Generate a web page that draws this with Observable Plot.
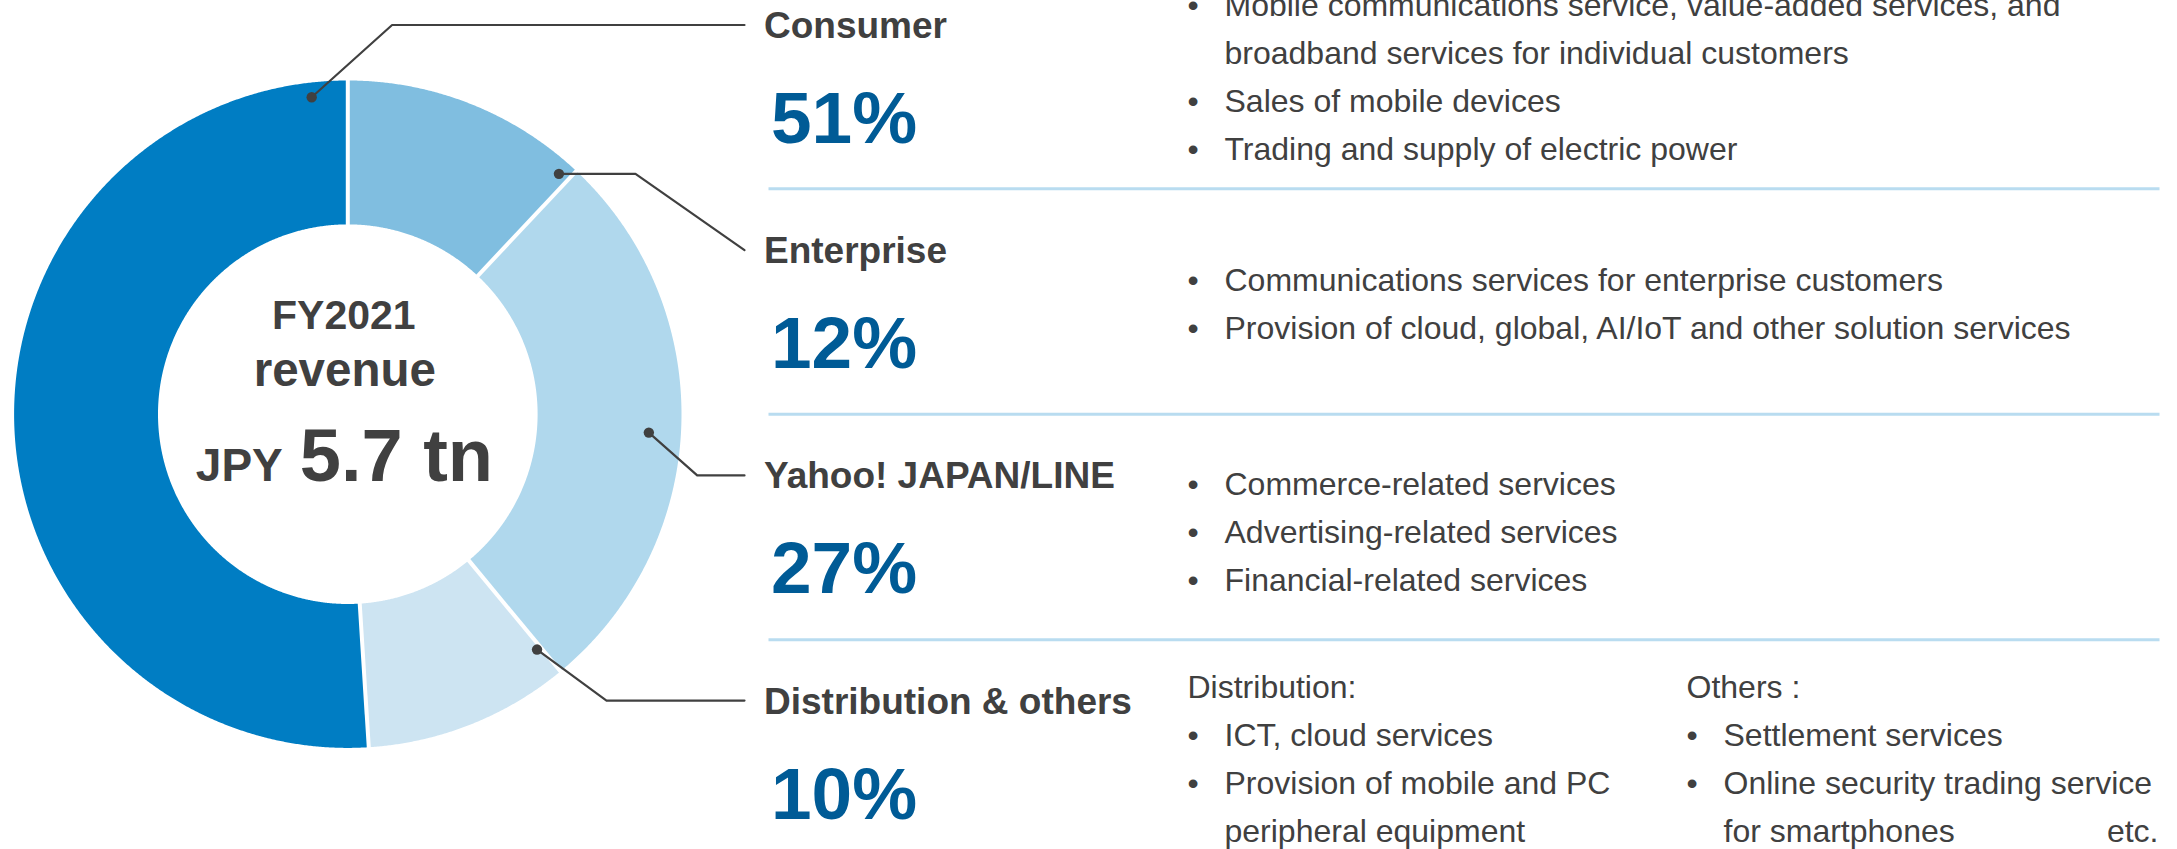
<!DOCTYPE html>
<html>
<head>
<meta charset="utf-8">
<script src="https://cdn.jsdelivr.net/npm/d3@7"></script>
<script src="https://cdn.jsdelivr.net/npm/@observablehq/plot@0.6"></script>
<style>
  html, body { margin: 0; padding: 0; background: #ffffff; }
  #chart svg { display: block; }
</style>
</head>
<body>
<div id="chart"></div>
<script>
// ---------------- data ----------------
const segments = ["Consumer", "Enterprise", "Yahoo! JAPAN/LINE", "Distribution & others"];
const shares = [51, 12, 27, 10];
const shareLabels = ["51%", "12%", "27%", "10%"];
// clockwise order of the slices, starting at 12 o'clock
const donutOrder = ["Enterprise", "Yahoo! JAPAN/LINE", "Distribution & others", "Consumer"];
const centerLines = ["FY2021", "revenue"];
const totalCurrency = "JPY";
const totalValue = "5.7 tn";

const consumerLines = [
  ["bullet", "Mobile communications service, value-added services, and"],
  ["cont", "broadband services for individual customers"],
  ["bullet", "Sales of mobile devices"],
  ["bullet", "Trading and supply of electric power"]
];
const enterpriseLines = [
  ["bullet", "Communications services for enterprise customers"],
  ["bullet", "Provision of cloud, global, AI/IoT and other solution services"]
];
const yahooLines = [
  ["bullet", "Commerce-related services"],
  ["bullet", "Advertising-related services"],
  ["bullet", "Financial-related services"]
];
const distributionLines = [
  ["head", "Distribution:"],
  ["bullet", "ICT, cloud services"],
  ["bullet", "Provision of mobile and PC"],
  ["cont", "peripheral equipment"]
];
const othersLines = [
  ["head", "Others :"],
  ["bullet", "Settlement services"],
  ["bullet", "Online security trading service"],
  ["cont", "for smartphones"]
];
const othersTail = "etc.";

// ---------------- styles / layout ----------------
const W = 2177, H = 849;
const FONT = '"Liberation Sans", Arial, Helvetica, sans-serif';
const INK = "#404040";
const PCT = "#005B96";
const RULE = "#B9DCF0";
const sliceFill = {
  "Consumer": "#007DC3",
  "Enterprise": "#80BEE0",
  "Yahoo! JAPAN/LINE": "#B0D8ED",
  "Distribution & others": "#CDE4F2"
};
const cx = 347.3, cy = 413.7, R = 333.7, R0 = 189.8;
const rowStep = 225.2;
const labelX = 763.5, pctX = 770.5, leaderEndX = 744;
const labelBase = i => 37.5 + rowStep * i;
const pctBase = i => 142.5 + rowStep * i;
const descCenter = i => 87.6 + 227.3 * i;
const lineStep = 48;
const descSize = 32;
const sepYs = [0, 1, 2].map(j => 188.3 + 225.5 * j);

// leader anchors: angle (deg clockwise from top), radius, elbow x, elbow at dot level?
const leaders = [
  {name: "Consumer", angle: -6.5, rad: 319, elbowX: 391.6, atDot: false},
  {name: "Enterprise", angle: 41.3, rad: 319.9, elbowX: 635, atDot: true},
  {name: "Yahoo! JAPAN/LINE", angle: 93.5, rad: 301.6, elbowX: 696.7, atDot: false},
  {name: "Distribution & others", angle: 141.2, rad: 302, elbowX: 606, atDot: false}
];

// ---------------- geometry from data ----------------
const polar = (a, rad) => ({x: cx + rad * Math.sin(a), y: cy - rad * Math.cos(a)});
const pie = d3.pie().sort(null).value(d => d.share);
const arcs = pie(donutOrder.map(name => ({name, share: shares[segments.indexOf(name)]})));

function ring(a0, a1) {
  const n = Math.max(2, Math.ceil((a1 - a0) / (Math.PI / 720)));
  const pts = [];
  for (let i = 0; i <= n; i++) pts.push(polar(a0 + (a1 - a0) * i / n, R));
  for (let i = n; i >= 0; i--) pts.push(polar(a0 + (a1 - a0) * i / n, R0));
  pts.push(pts[0]);
  return pts;
}

const boundaries = arcs.map(a => {
  const p1 = polar(a.startAngle, R0 - 3), p2 = polar(a.startAngle, R + 3);
  return {x1: p1.x, y1: p1.y, x2: p2.x, y2: p2.y};
});

const leaderPts = [];
const leaderDots = [];
leaders.forEach(l => {
  const row = segments.indexOf(l.name);
  const dot = polar(l.angle * Math.PI / 180, l.rad);
  const endY = labelBase(row) - 13;
  const elbow = {x: l.elbowX, y: l.atDot ? dot.y : endY};
  leaderDots.push(dot);
  leaderPts.push({id: l.name, ...dot}, {id: l.name, ...elbow}, {id: l.name, x: leaderEndX, y: endY});
});

// description text items
const descBlocks = [
  {row: 0, x: 1187, lines: consumerLines},
  {row: 1, x: 1187, lines: enterpriseLines},
  {row: 2, x: 1187, lines: yahooLines},
  {row: 3, x: 1187, lines: distributionLines},
  {row: 3, x: 1686, lines: othersLines}
];
const descText = [], bulletText = [];
descBlocks.forEach(b => {
  const n = b.lines.length;
  b.lines.forEach(([kind, t], k) => {
    const y = descCenter(b.row) + (k - (n - 1) / 2) * lineStep;
    if (kind === "head") descText.push({x: b.x, y, text: t});
    else descText.push({x: b.x + 37, y, text: t});
    if (kind === "bullet") bulletText.push({x: b.x + 5.5, y, text: "\u2022"});
  });
});
const lastOthers = descCenter(3) + ((othersLines.length - 1) / 2) * lineStep;

const labelData = segments.map((s, i) => ({x: labelX, y: labelBase(i), text: s}));
const pctData = shareLabels.map((s, i) => ({x: pctX, y: pctBase(i), text: s}));

// ---------------- plot ----------------
const marks = [
  ...arcs.map(a => Plot.line(ring(a.startAngle, a.endAngle), {
    x: "x", y: "y", fill: sliceFill[a.data.name], stroke: "none", curve: "linear"
  })),
  Plot.link(boundaries, {x1: "x1", y1: "y1", x2: "x2", y2: "y2", stroke: "white", strokeWidth: 4}),
  Plot.link(sepYs.map(y => ({y, x1: 768, x2: 2159})), {x1: "x1", x2: "x2", y1: "y", y2: "y", stroke: RULE, strokeWidth: 3}),
  Plot.line(leaderPts, {x: "x", y: "y", z: "id", stroke: INK, strokeWidth: 2.2, curve: "linear"}),
  Plot.dot(leaderDots, {x: "x", y: "y", r: 5.2, fill: INK, stroke: "none"}),
  // center text
  Plot.text([{x: cx - 4, y: 328.3, text: centerLines[0]}], {x: "x", y: "y", text: "text", fontSize: 41, fontWeight: "bold", fill: INK, fontFamily: FONT, lineAnchor: "bottom", textAnchor: "middle"}),
  Plot.text([{x: cx - 3, y: 385, text: centerLines[1]}], {x: "x", y: "y", text: "text", fontSize: 47.5, fontWeight: "bold", fill: INK, fontFamily: FONT, lineAnchor: "bottom", textAnchor: "middle"}),
  Plot.text([{x: cx - 152, y: 480, text: totalCurrency}], {x: "x", y: "y", text: "text", fontSize: 46, fontWeight: "bold", fill: INK, fontFamily: FONT, lineAnchor: "bottom", textAnchor: "start"}),
  Plot.text([{x: cx - 48, y: 480, text: totalValue}], {x: "x", y: "y", text: "text", fontSize: 74, fontWeight: "bold", fill: INK, fontFamily: FONT, lineAnchor: "bottom", textAnchor: "start"}),
  // segment labels
  Plot.text(labelData, {x: "x", y: "y", text: "text", fontSize: 37, fontWeight: "bold", fill: INK, fontFamily: FONT, lineAnchor: "bottom", textAnchor: "start"}),
  Plot.text(pctData, {x: "x", y: "y", text: "text", fontSize: 73, fontWeight: "bold", fill: PCT, fontFamily: FONT, lineAnchor: "bottom", textAnchor: "start"}),
  // descriptions
  Plot.text(descText, {x: "x", y: "y", text: "text", fontSize: descSize, fill: INK, fontFamily: FONT, lineAnchor: "bottom", textAnchor: "start"}),
  Plot.text(bulletText, {x: "x", y: "y", text: "text", fontSize: descSize, fill: INK, fontFamily: FONT, lineAnchor: "bottom", textAnchor: "middle"}),
  Plot.text([{x: 2158, y: lastOthers, text: othersTail}], {x: "x", y: "y", text: "text", fontSize: descSize, fill: INK, fontFamily: FONT, lineAnchor: "bottom", textAnchor: "end"})
];

const chart = Plot.plot({
  width: W,
  height: H,
  margin: 0,
  x: {type: "linear", domain: [0, W], range: [0, W], axis: null},
  y: {type: "linear", domain: [0, H], range: [0, H], axis: null},
  style: {fontFamily: FONT, background: "#ffffff", overflow: "hidden"},
  marks
});
document.getElementById("chart").appendChild(chart);
</script>
</body>
</html>
